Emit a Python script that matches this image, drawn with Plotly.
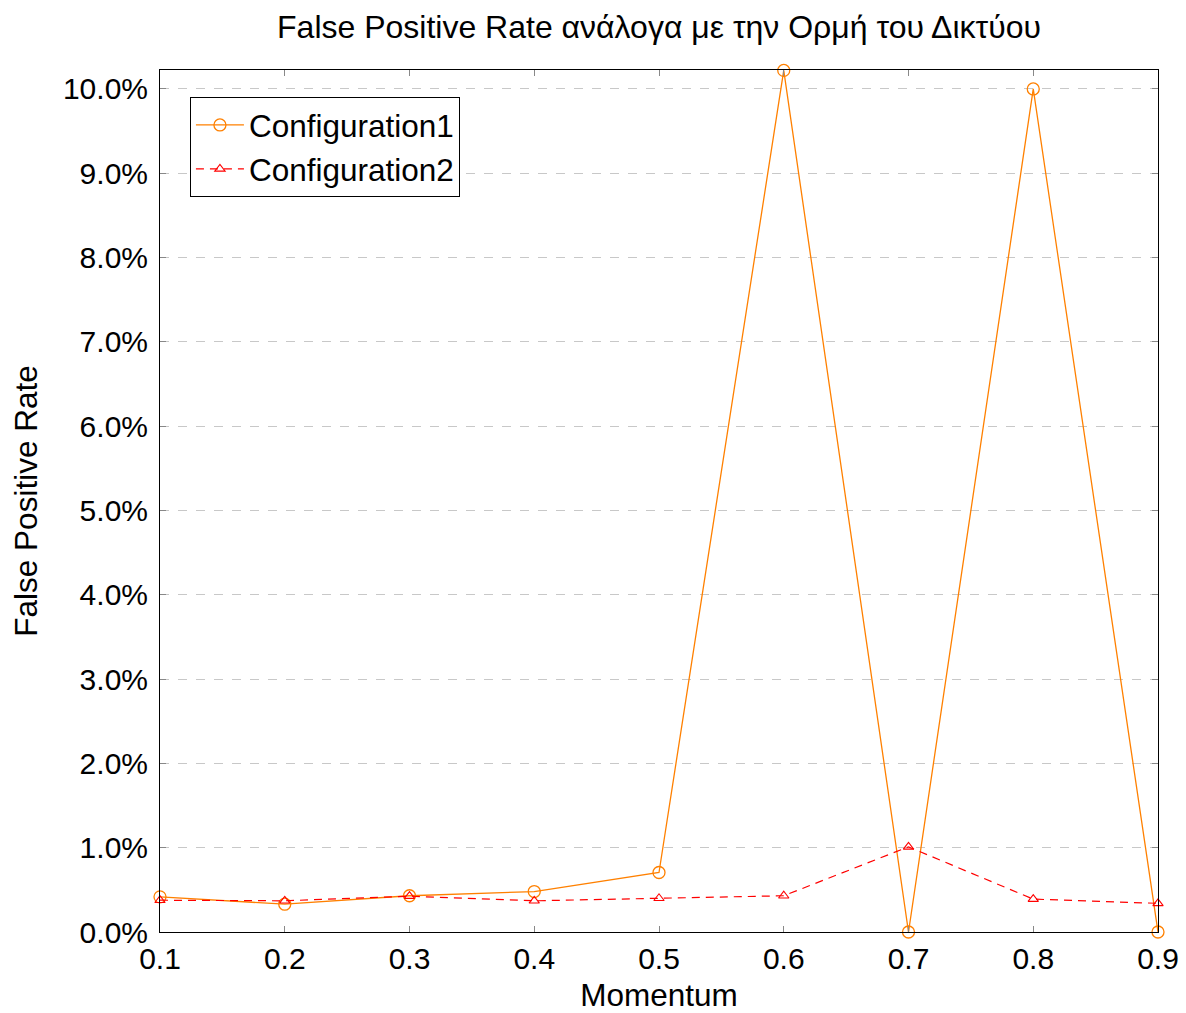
import plotly.graph_objects as go

momentum = [0.1, 0.2, 0.3, 0.4, 0.5, 0.6, 0.7, 0.8, 0.9]
config1 = [0.417, 0.33, 0.43, 0.48, 0.706, 10.22, 0.0, 10.0, 0.0]
config2 = [0.377, 0.37, 0.425, 0.37, 0.40, 0.43, 1.01, 0.39, 0.34]
y_ticks = [0, 1, 2, 3, 4, 5, 6, 7, 8, 9, 10]
x_ticks = [0.1, 0.2, 0.3, 0.4, 0.5, 0.6, 0.7, 0.8, 0.9]

FONT = "Liberation Sans, Arial, sans-serif"

fig = go.Figure()
fig.add_trace(go.Scatter(
    x=momentum, y=[v / 100 for v in config1], name="Configuration1",
    mode="lines+markers",
    line=dict(color="#FF8000", width=1.3),
    marker=dict(symbol="circle-open", size=12, color="#FF8000", line=dict(width=1.3)),
    cliponaxis=False,
))
fig.add_trace(go.Scatter(
    x=momentum, y=[v / 100 for v in config2], name="Configuration2",
    mode="lines+markers",
    line=dict(color="#FF0000", width=1.2, dash="8px,6px"),
    marker=dict(symbol="triangle-up-open", size=9, color="#FF0000", line=dict(width=1.1)),
    cliponaxis=False,
))

fig.update_layout(
    width=1186, height=1013,
    margin=dict(l=160, r=28, t=70, b=81),
    paper_bgcolor="white", plot_bgcolor="white",
    font=dict(family=FONT, size=30, color="black"),
    title=dict(text="False Positive Rate ανάλογα με την Ορμή του Δικτύου",
               x=(160 + 499) / 1186, xanchor="center", y=1 - 27 / 1013, yanchor="middle",
               font=dict(size=32)),
    legend=dict(x=0.030, y=0.9687, xanchor="left", yanchor="top",
                bordercolor="black", borderwidth=1, bgcolor="white",
                font=dict(size=31.5), tracegroupgap=0, itemwidth=48),
    showlegend=True,
)
fig.update_xaxes(
    range=[0.1, 0.9], tickvals=x_ticks, ticktext=[f"{v:.1f}" for v in x_ticks],
    showgrid=False, zeroline=False, automargin=False,
    showline=True, linecolor="black", linewidth=1, mirror="allticks",
    ticks="inside", ticklen=6, tickcolor="#888888",
    title=dict(text="Momentum", font=dict(size=31.5)),
    tickfont=dict(size=30),
)
fig.update_yaxes(
    range=[0, 0.10225], tickvals=[v / 100 for v in y_ticks], tickformat=".1%",
    showgrid=True, gridcolor="#c8c8c8", griddash="dash", gridwidth=1,
    zeroline=False, automargin=False,
    showline=True, linecolor="black", linewidth=1, mirror="allticks",
    ticks="inside", ticklen=6, tickcolor="#888888", ticklabelstandoff=5,
    title=dict(text="False Positive Rate", font=dict(size=31.5)),
    tickfont=dict(size=30),
)

fig.write_html("out.html")
